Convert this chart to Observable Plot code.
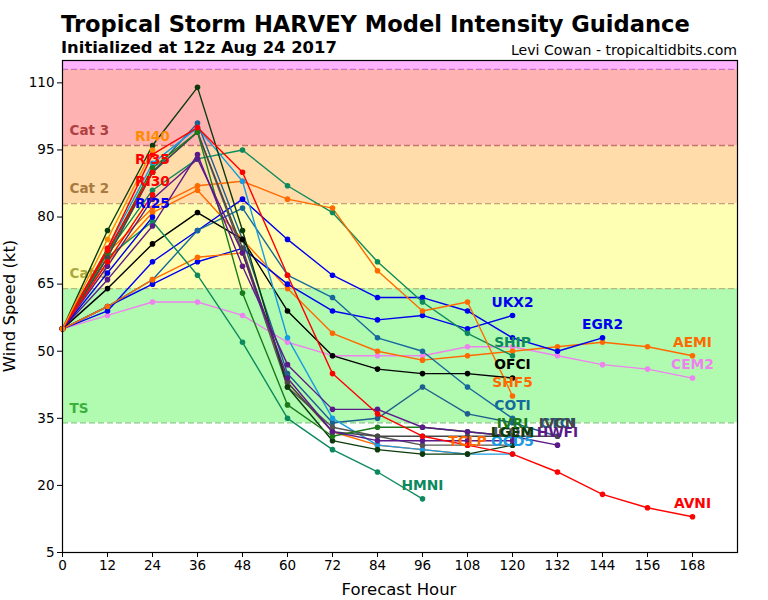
<!DOCTYPE html>
<html><head><meta charset="utf-8">
<script src="https://cdn.jsdelivr.net/npm/d3@7"></script>
<script src="https://cdn.jsdelivr.net/npm/@observablehq/plot@0.6"></script>
<style>
body{margin:0;background:#fff;font-family:"DejaVu Sans",sans-serif;}
#wrap{position:relative;width:768px;height:600px;overflow:hidden;}
.t{position:absolute;white-space:nowrap;line-height:1;color:#000;}
#chart{position:absolute;left:0;top:58px;}
</style></head>
<body><div id="wrap">
<div class="t" id="title" style="left:61px;top:13px;font-size:22.6px;font-weight:bold;">Tropical Storm HARVEY Model Intensity Guidance</div>
<div class="t" id="sub" style="left:61px;top:40px;font-size:16.4px;font-weight:bold;">Initialized at 12z Aug 24 2017</div>
<div class="t" id="credit" style="right:31px;top:43px;font-size:14.1px;">Levi Cowan - tropicaltidbits.com</div>
<div class="t" id="ylab" style="left:10px;top:306px;font-size:16.5px;transform:translate(-50%,-50%) rotate(-90deg);">Wind Speed (kt)</div>
<div class="t" id="xlab" style="left:399px;top:582px;font-size:16.5px;transform:translateX(-50%);">Forecast Hour</div>
<div id="chart"></div>
</div>
<script>
// ---- data ----
const hours = [0,12,24,36,48,60,72,84,96,108,120,132,144,156,168];
const xTicks = [0,12,24,36,48,60,72,84,96,108,120,132,144,156,168];
const yTicks = [5,20,35,50,65,80,95,110];

const bandNames = ["TS","Cat 1","Cat 2","Cat 3","Cat 4"];
const bandLow  = [34,64,83,96,113];
const bandHigh = [64,83,96,113,140];

const modelNames = ["CEM2","AEMI","UKX2","EGR2","COTI","CTCI","SHIP","SHF5","OFCI","TCLP","HMNI","OCD5","ICON","IVCN","LGEM","IVRI","HWF2","HWFI","AVNI","RI25","RI30","RI35","RI40"];
const CEM2 = [55,58,61,61,58,52,49,49,49,51,51,49,47,46,44];
const AEMI = [55,70,81,86,75,64,54,50,48,49,50,51,52,51,49];
const UKX2 = [55,60,65,70,73,65,59,57,58,55,58];
const EGR2 = [55,59,70,77,84,75,67,62,62,59,53,50,53];
const COTI = [55,60,66,77,82,67,62,53,50,42,35];
const CTCI = [55,72,90,101,75,45,34,35,42,36,34,31];
const SHIP = [55,72,86,93,95,87,81,70,61,54,49];
const SHF5 = [55,72,82,87,88,84,82,68,59,61,40];
const OFCI = [55,64,74,81,75,59,49,46,45,45,44];
const TCLP = [55,60,66,71,72,43,32,29,28,27];
const HMNI = [55,71,79,67,52,35,28,23,17];
const OCD5 = [55,73,92,100,88,53,35,29,28,27,27];
const ICON = [55,71,90,99,72,42,33,31,29,29,29];
const IVCN = [55,71,90,99,73,43,32,31,31,31,31,31];
const LGEM = [55,77,96,109,77,42,30,28,27,27,29];
const IVRI = [55,72,91,99,63,38,31,33,33,32,31];
const HWF2 = [55,69,84,93,72,44,32,30,30,30,30];
const HWFI = [55,66,78,94,69,47,37,37,33,32,31,29];
const AVNI = [55,73,94,100,90,67,45,36,31,29,27,23,18,15,13];
const RI25 = [55,67.5,80];
const RI30 = [55,70,85];
const RI35 = [55,72.5,90];
const RI40 = [55,75,95];
const modelValues = [CEM2,AEMI,UKX2,EGR2,COTI,CTCI,SHIP,SHF5,OFCI,TCLP,HMNI,OCD5,ICON,IVCN,LGEM,IVRI,HWF2,HWFI,AVNI,RI25,RI30,RI35,RI40];
const hiddenLabels = ["HWF2"];

// ---- styles ----
const modelColor = {
  CEM2:"#ee82ee", AEMI:"#ff6a00", UKX2:"#0000ee", EGR2:"#0000ee", COTI:"#16699c", CTCI:"#1f5f90",
  SHIP:"#0d8a5d", SHF5:"#ff6a00", OFCI:"#000000", TCLP:"#ff6a00", HMNI:"#0d8a5d", OCD5:"#1a9be0",
  ICON:"#555555", IVCN:"#474747", LGEM:"#0b3b0b", IVRI:"#1a7a1a", HWF2:"#5a1a8a", HWFI:"#5a1a8a",
  AVNI:"#ff0000", RI25:"#0000ee", RI30:"#ff0000", RI35:"#ff0000", RI40:"#ff8c00"
};
const bandFill = ["#b1fbb1","#ffffb3","#ffdcaa","#ffb2b2","#ffb2ff"];
const bandLine = ["#7fcc7f","#b8b878","#c8a078","#c47272","#c272c2"];
const bandText = ["#3cb03c","#a8a840","#a87a40","#b04040",""];

// ---- build ----
const rows = [];
const last = [];
modelNames.forEach((m, k) => {
  const vals = modelValues[k];
  vals.forEach((v, i) => rows.push({model: m, hour: hours[i], kt: v, color: modelColor[m]}));
  if (!hiddenLabels.includes(m)) last.push({model: m, hour: hours[vals.length-1], kt: vals[vals.length-1], color: modelColor[m]});
});
const bands = bandNames.map((n, i) => ({name: n, lo: bandLow[i], hi: bandHigh[i], fill: bandFill[i], line: bandLine[i], tc: bandText[i]}));

const chart = Plot.plot({
  width: 768, height: 542,
  marginTop: 2, marginBottom: 48, marginLeft: 62, marginRight: 31,
  x: {domain: [0, 180], ticks: xTicks, label: null},
  y: {domain: [5, 115], ticks: yTicks, label: null},
  color: {type: "identity"},
  style: {fontFamily: "DejaVu Sans, sans-serif", fontSize: "13.5px", color: "#000", background: "transparent"},
  marks: [
    Plot.rect(bands, {x1: 0, x2: 180, y1: "lo", y2: "hi", fill: "fill", clip: true}),
    Plot.ruleY(bands, {y: "lo", stroke: "line", strokeWidth: 1.3, strokeDasharray: "6,3", clip: true}),
    Plot.text(bands.filter(b => b.tc), {x: 0, y: d => d.lo + 2.3, text: "name", fill: "tc", dx: 7, textAnchor: "start", lineAnchor: "bottom", fontWeight: "bold", fontSize: 13.5}),
    Plot.line(rows, {x: "hour", y: "kt", z: "model", stroke: "color", strokeWidth: 1.4}),
    Plot.dot(rows, {x: "hour", y: "kt", fill: "color", r: 2.8}),
    Plot.text(last, {x: "hour", y: "kt", text: "model", fill: "color", dy: -13, fontWeight: "bold", fontSize: 13.8}),
    Plot.frame({stroke: "#000", strokeWidth: 1.2}),
    Plot.axisX({ticks: xTicks, tickSize: 5, tickPadding: 3, label: null, fontSize: 13.5}),
    Plot.axisY({ticks: yTicks, tickSize: 5, tickPadding: 3, label: null, fontSize: 13.5})
  ]
});
document.getElementById("chart").appendChild(chart);
</script>
</body></html>
